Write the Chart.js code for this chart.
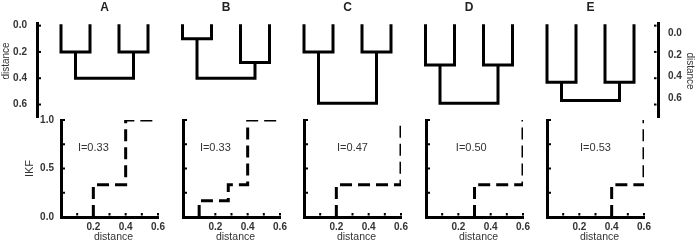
<!DOCTYPE html>
<html><head><meta charset="utf-8">
<script src="https://cdn.jsdelivr.net/npm/chart.js@4.4.1/dist/chart.umd.min.js"></script>
<style>
html,body{margin:0;padding:0;background:#fff;}
#wrap{position:relative;width:696px;height:241px;overflow:hidden;background:#fff;}
#wrap canvas{position:absolute;}
</style></head><body><div id="wrap"></div>
<script>
// ---------------- data ----------------
const panelNames = ['A', 'B', 'C', 'D', 'E'];
// dendrogram merge heights: [left pair, right pair, root]
const mergeA = [0.2, 0.2, 0.4];
const mergeB = [0.1, 0.28, 0.4];
const mergeC = [0.2, 0.2, 0.59];
const mergeD = [0.3, 0.3, 0.59];
const mergeE = [0.43, 0.43, 0.57];
const distanceTicks = [0, 0.2, 0.4, 0.6];
const distanceTickLabels = ['0.0', '0.2', '0.4', '0.6'];
// IKF step functions: distances where IKF jumps, and new IKF values
const stepDistA = [0.2, 0.4];       const stepIkfA = [0.333, 1.0];
const stepDistB = [0.1, 0.28, 0.4]; const stepIkfB = [0.167, 0.333, 1.0];
const stepDistC = [0.2, 0.6];       const stepIkfC = [0.333, 1.0];
const stepDistD = [0.3, 0.6];       const stepIkfD = [0.333, 1.0];
const stepDistE = [0.4, 0.6];       const stepIkfE = [0.333, 1.0];
const indexLabels = ['I=0.33', 'I=0.33', 'I=0.47', 'I=0.50', 'I=0.53'];
const ikfTicks = [0, 0.25, 0.5, 0.75, 1.0];
const ikfTickLabels = ['0.0', '0.5', '1.0'];
const distTicks = [0.1, 0.2, 0.3, 0.4, 0.5, 0.6];
const distTickLabels = ['0.2', '0.4', '0.6'];

// ---------------- layout / style ----------------
const FONT = '"Liberation Sans", Arial, sans-serif';
const TXT = '#333';
const LEAF_PX = 29;
const PANEL_PX = 121.5;
const PANEL_STEP = PANEL_PX / LEAF_PX;
const FIRST_X = 61;
const labelPosX = [0.2, 0.2, 0.3, 0.28, 0.3];
const wrap = document.getElementById('wrap');
function makeCanvas(left, top, w, h, z) {
  const c = document.createElement('canvas');
  c.width = w; c.height = h;
  c.style.left = left + 'px'; c.style.top = top + 'px';
  c.style.width = w + 'px'; c.style.height = h + 'px';
  if (z) c.style.zIndex = z;
  wrap.appendChild(c);
  return c;
}
function nub(ctx, x, y, w, h) { ctx.fillStyle = '#000'; ctx.fillRect(x, y, w, h); }
function drawText(ctx, text, x, y, angle, font, align) {
  ctx.save();
  ctx.translate(x, y); ctx.rotate(angle);
  ctx.font = font; ctx.fillStyle = TXT;
  ctx.textAlign = align || 'center'; ctx.textBaseline = 'middle';
  ctx.fillText(text, 0, 0);
  ctx.restore();
}

// ---------------- top: dendrograms ----------------
const merges = [mergeA, mergeB, mergeC, mergeD, mergeE];
function dendroPoints(m, p) {
  const o = p * PANEL_STEP;
  const x = [o, o + 1, o + 2, o + 3];
  const c1 = o + 0.5, c2 = o + 2.5;
  return [
    {x: x[0], y: 0}, {x: x[0], y: m[0]}, {x: x[1], y: m[0]}, {x: x[1], y: 0}, {x: x[1] + 0.01, y: null},
    {x: c1, y: m[0]}, {x: c1, y: m[2]}, {x: c2, y: m[2]}, {x: c2, y: m[1]}, {x: c2 + 0.01, y: null},
    {x: x[2], y: 0}, {x: x[2], y: m[1]}, {x: x[3], y: m[1]}, {x: x[3], y: 0}
  ];
}
const axisFont = {family: FONT, size: 10, weight: 'bold'};
const TOP_MIN_L = -0.02, TOP_MAX_L = 0.695;
function distAxis(pos, min, max, width, showLabels, showBorder) {
  return {
    type: 'linear', position: pos, reverse: true, min: min, max: max,
    afterBuildTicks: s => { s.ticks = distanceTicks.map(v => ({value: v})); },
    afterFit: s => { s.width = width; s.paddingTop = 0; s.paddingBottom = 0; },
    grid: {display: false, drawTicks: false},
    border: {display: showBorder, color: '#000', width: 3},
    ticks: {display: showLabels, padding: 10, autoSkip: false, color: TXT, font: axisFont,
      callback: v => distanceTickLabels[distanceTicks.indexOf(Number(Number(v).toFixed(1)))] || Number(v).toFixed(1)},
    title: {display: false}
  };
}
const topCanvas = makeCanvas(0, 0, 696, 120);
new Chart(topCanvas, {
  type: 'line',
  data: {datasets: merges.map((m, p) => ({
    data: dendroPoints(m, p), borderColor: '#000', borderWidth: 3, pointRadius: 0,
    tension: 0, spanGaps: false, fill: false, borderCapStyle: 'square', borderJoinStyle: 'miter'
  }))},
  options: {
    responsive: false, animation: false, devicePixelRatio: 1,
    layout: {padding: {top: 23, bottom: 3, left: 0, right: 0}},
    plugins: {legend: {display: false}, tooltip: {enabled: false}},
    scales: {
      x: {type: 'linear', display: false, min: -(FIRST_X - 37) / LEAF_PX, max: (658 - FIRST_X) / LEAF_PX},
      y: distAxis('left', TOP_MIN_L, TOP_MAX_L, 37, false, true),
      y2: distAxis('right', -0.099, 0.776, 38, true, true)
    }
  },
  plugins: [{
    id: 'topDecor',
    beforeDraw(chart) {
      const {ctx, scales} = chart;
      ctx.save();
      ctx.fillStyle = '#222';
      ctx.font = 'bold 12px ' + FONT;
      ctx.textAlign = 'center'; ctx.textBaseline = 'middle';
      panelNames.forEach((n, p) => {
        ctx.fillText(n, scales.x.getPixelForValue(p * PANEL_STEP + 1.5), 8);
      });
      ctx.restore();
      drawText(ctx, 'distance', 690, 71, Math.PI / 2, '10px ' + FONT);
    },
    afterDraw(chart) {
      const {ctx, chartArea, scales} = chart;
      ctx.save();
      distanceTicks.forEach(v => {
        const py = scales.y.getPixelForValue(v);
        nub(ctx, chartArea.left + 1.5, py - 1, 2.5, 2);
        nub(ctx, chartArea.right - 4, py - 1, 2.5, 2);
      });
      ctx.restore();
    }
  }]
});

// ---------------- bottom: IKF step plots ----------------
const stepDists = [stepDistA, stepDistB, stepDistC, stepDistD, stepDistE];
const stepIkfs = [stepIkfA, stepIkfB, stepIkfC, stepIkfD, stepIkfE];
const DIST_MAX = distTicks[distTicks.length - 1];
function ikfPoints(d, v) {
  const pts = [{x: d[0], y: 0}];
  for (let k = 0; k < d.length; k++) {
    pts.push({x: d[k], y: v[k]});
    pts.push({x: k + 1 < d.length ? d[k + 1] : DIST_MAX, y: v[k]});
  }
  return pts;
}
for (let p = 0; p < 5; p++) {
  const axisX = Math.round(FIRST_X + p * PANEL_PX);
  const cv = makeCanvas(axisX - 45, 110, 45 + 97 + 14, 131);
  const first = p === 0;
  new Chart(cv, {
    type: 'line',
    data: {datasets: [{
      data: ikfPoints(stepDists[p], stepIkfs[p]), borderColor: '#000', borderWidth: 3,
      borderDash: [12, 6], pointRadius: 0, tension: 0, fill: false,
      borderCapStyle: 'butt', borderJoinStyle: 'miter'
    }]},
    options: {
      responsive: false, animation: false, devicePixelRatio: 1,
      layout: {padding: {top: 10, right: 14, left: 0, bottom: 0}},
      plugins: {legend: {display: false}, tooltip: {enabled: false}},
      scales: {
        x: {
          type: 'linear', min: 0, max: DIST_MAX,
          afterBuildTicks: s => { s.ticks = distTicks.map(v => ({value: v})); },
          afterFit: s => { s.height = 24; s.paddingLeft = 0; s.paddingRight = 0; },
          grid: {display: false, drawTicks: false},
          border: {display: true, color: '#000', width: 3},
          ticks: {padding: 4, autoSkip: false, maxRotation: 0, color: TXT, font: axisFont,
            callback: v => distTickLabels.includes(Number(v).toFixed(1)) ? Number(v).toFixed(1) : ''},
          title: {display: false}
        },
        y: {
          type: 'linear', min: 0, max: 1,
          afterBuildTicks: s => { s.ticks = ikfTicks.map(v => ({value: v})); },
          afterFit: s => { s.width = 45; s.paddingTop = 0; s.paddingBottom = 0; },
          grid: {display: false, drawTicks: false},
          border: {display: true, color: '#000', width: 3},
          ticks: {padding: 7, autoSkip: false, color: TXT, font: axisFont,
            callback: v => (first && ikfTickLabels.includes(Number(v).toFixed(1))) ? Number(v).toFixed(1) : ''},
          title: {display: first, text: 'IKF', color: TXT, font: {family: FONT, size: 11}, padding: {top: 7, bottom: 0}}
        }
      }
    },
    plugins: [{
      id: 'ikfDecor' + p,
      afterDraw(chart) {
        const {ctx, chartArea, scales} = chart;
        ctx.save();
        distTicks.forEach(v => {
          const px = scales.x.getPixelForValue(v);
          nub(ctx, px - 1, chartArea.bottom - 4, 2, 2.5);
        });
        ikfTicks.forEach(v => {
          if (v === 0) return;
          const py = scales.y.getPixelForValue(v);
          nub(ctx, chartArea.left + 1.5, py - 1, 2.5, 2);
        });
        ctx.restore();
        drawText(ctx, indexLabels[p], scales.x.getPixelForValue(labelPosX[p]), scales.y.getPixelForValue(0.715), 0, '11px ' + FONT);
        drawText(ctx, 'distance', (chartArea.left + chartArea.right) / 2 + 4, 127, 0, '10.5px ' + FONT);
      }
    }]
  });
}

// ---------------- left distance axis labels (own canvas, on top) ----------------
const leftAxisCanvas = makeCanvas(0, 0, 40, 120, 5);
new Chart(leftAxisCanvas, {
  type: 'line',
  data: {datasets: [{data: [], pointRadius: 0, borderWidth: 0}]},
  options: {
    responsive: false, animation: false, devicePixelRatio: 1,
    layout: {padding: {top: 23, bottom: 3, left: 0, right: 0}},
    plugins: {legend: {display: false}, tooltip: {enabled: false}},
    scales: {
      x: {type: 'linear', display: false, min: 0, max: 1},
      y: distAxis('left', TOP_MIN_L, TOP_MAX_L, 37, true, false)
    }
  },
  plugins: [{
    id: 'leftTitle',
    afterDraw(chart) {
      drawText(chart.ctx, 'distance', 6, 61, -Math.PI / 2, '10px ' + FONT);
    }
  }]
});
</script></body></html>
